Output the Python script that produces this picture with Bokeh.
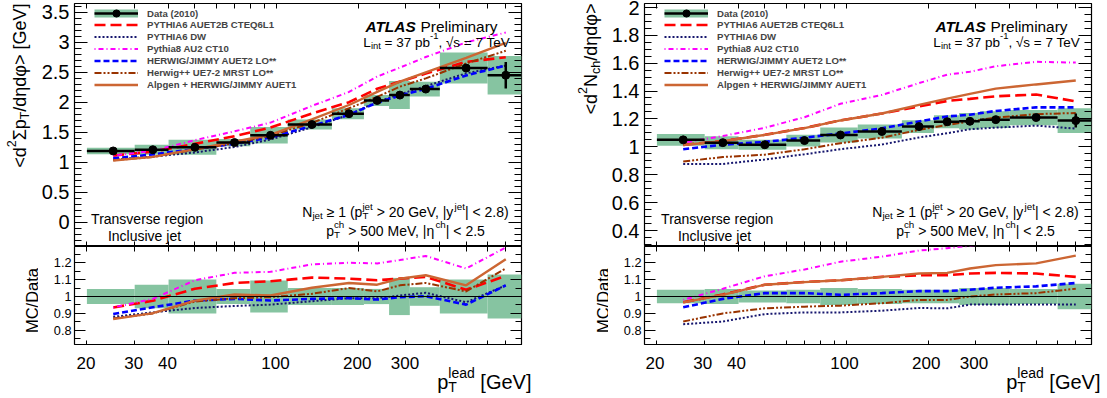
import numpy as np
from bokeh.plotting import figure
from bokeh.layouts import row, column
from bokeh.models import (FixedTicker, SingleIntervalTicker, LogAxis, LinearAxis, Label,
                          Legend, LegendItem, Span, CustomJSTickFormatter, Range1d)
from bokeh.embed import file_html
from bokeh.resources import INLINE

FONT = "Liberation Sans"
GREEN = "#86c4a1"

# ---------------- data ----------------
bin_edges = [20, 30, 40, 60, 80, 110, 160, 210, 260, 310, 400, 600, 800]
bin_centres = [25, 35, 50, 70, 95, 135, 185, 235, 285, 355, 500, 700]

mc_names = ["PYTHIA6 AUET2B CTEQ6L1", "PYTHIA6 DW", "Pythia8 AU2 CT10",
            "HERWIG/JIMMY AUET2 LO**", "Herwig++ UE7-2 MRST LO**",
            "Alpgen + HERWIG/JIMMY AUET1"]

# left: <d2 sum pT / deta dphi> [GeV]
sumpt_data = [1.19, 1.21, 1.25, 1.33, 1.45, 1.63, 1.81, 2.03, 2.12, 2.22, 2.57, 2.45]
sumpt_syst = [0.045, 0.07, 0.10, 0.045, 0.095, 0.05, 0.05, 0.045, 0.11, 0.055, 0.10, 0.13]  # relative
sumpt_stat = [0.004, 0.004, 0.004, 0.005, 0.006, 0.008, 0.01, 0.012, 0.015, 0.02, 0.05, 0.22]
sumpt_ratio_p6auet2b = [0.935, 0.975, 1.046, 1.08, 1.09, 1.112, 1.106, 1.096, 1.106, 1.116, 1.04, 1.122]
sumpt_ratio_p6dw = [0.88, 0.906, 0.932, 0.944, 0.952, 0.972, 0.99, 0.99, 1.006, 1.022, 0.966, 1.066]
sumpt_ratio_p8 = [0.935, 0.986, 1.096, 1.14, 1.146, 1.19, 1.2, 1.196, 1.216, 1.24, 1.166, 1.29]
sumpt_ratio_hj = [0.896, 0.936, 0.976, 0.986, 0.976, 0.986, 0.99, 0.982, 0.996, 1.002, 0.952, 1.066]
sumpt_ratio_hpp = [0.87, 0.9, 0.97, 0.99, 0.996, 1.016, 1.05, 1.03, 1.066, 1.08, 1.03, 1.166]
sumpt_ratio_alpgen = [0.866, 0.902, 0.976, 1.012, 1.006, 1.052, 1.08, 1.07, 1.106, 1.126, 1.066, 1.22]

# right: <d2 Nch / deta dphi>
nch_data = [1.05, 1.03, 1.015, 1.045, 1.085, 1.11, 1.145, 1.18, 1.183, 1.195, 1.21, 1.188]
nch_syst = [0.04, 0.045, 0.035, 0.04, 0.05, 0.045, 0.04, 0.04, 0.05, 0.05, 0.045, 0.075]  # relative
nch_stat = [0.003, 0.003, 0.003, 0.003, 0.004, 0.005, 0.006, 0.007, 0.008, 0.01, 0.015, 0.05]
nch_ratio_p6auet2b = [0.966, 1.012, 1.07, 1.086, 1.096, 1.116, 1.126, 1.126, 1.136, 1.14, 1.136, 1.116]
nch_ratio_p6dw = [0.836, 0.852, 0.896, 0.906, 0.906, 0.916, 0.932, 0.93, 0.952, 0.952, 0.952, 0.952]
nch_ratio_p8 = [0.98, 1.046, 1.12, 1.16, 1.206, 1.236, 1.272, 1.286, 1.3, 1.32, 1.33, 1.35]
nch_ratio_hj = [0.936, 0.986, 1.02, 1.02, 1.01, 1.02, 1.032, 1.032, 1.04, 1.052, 1.06, 1.08]
nch_ratio_hpp = [0.852, 0.9, 0.93, 0.94, 0.946, 0.96, 0.98, 0.98, 1.0, 1.012, 1.02, 1.046]
nch_ratio_alpgen = [0.965, 1.01, 1.07, 1.085, 1.096, 1.116, 1.136, 1.14, 1.166, 1.186, 1.196, 1.242]

x_ticks = [20, 30, 40, 100, 200, 300]
x_tick_labels = ["20", "30", "40", "100", "200", "300"]
x_minor_ticks = [50, 60, 70, 80, 90, 400, 500, 600, 700, 800]
ratio_ticks = [0.8, 0.9, 1.0, 1.1, 1.2]
ratio_minor_ticks = [0.75, 0.85, 0.95, 1.05, 1.15, 1.25]
X_MIN, X_MAX = 18, 800

mc_styles = [
    dict(line_color="#ff0000", line_width=2.6, line_dash="11 5"),
    dict(line_color="#16166e", line_width=2.0, line_dash="2 2"),
    dict(line_color="#ff00ff", line_width=2.0, line_dash="1 3 5 3"),
    dict(line_color="#0000ff", line_width=2.6, line_dash="6 3"),
    dict(line_color="#993300", line_width=2.0, line_dash="7 2 2 2 2 2"),
    dict(line_color="#cc6633", line_width=2.4),
]

# ---------------- text helpers ----------------
W = {' ': .278, '!': .278, '(': .333, ')': .333, '+': .584, ',': .278, '-': .333, '.': .278,
     '/': .278, '<': .584, '=': .584, '>': .584, '[': .278, ']': .278, '|': .26, '*': .389,
     '≥': .549, '√': .549, 'η': .556, 'φ': .65, 'Σ': .6,
     'A': .667, 'B': .667, 'C': .722, 'D': .722, 'E': .667, 'F': .611, 'G': .778, 'H': .722,
     'I': .278, 'J': .5, 'K': .667, 'L': .556, 'M': .833, 'N': .722, 'O': .778, 'P': .667,
     'Q': .778, 'R': .722, 'S': .667, 'T': .611, 'U': .722, 'V': .667, 'W': .944, 'X': .667,
     'Y': .667, 'Z': .611, 'a': .556, 'b': .556, 'c': .5, 'd': .556, 'e': .556, 'f': .278,
     'g': .556, 'h': .556, 'i': .222, 'j': .222, 'k': .5, 'l': .222, 'm': .833, 'n': .556,
     'o': .556, 'p': .556, 'q': .556, 'r': .333, 's': .5, 't': .278, 'u': .556, 'v': .5,
     'w': .722, 'x': .5, 'y': .5, 'z': .5}


def tw(s, size, bold=False):
    return size * sum(W.get(c, 0.556) for c in s) * (1.04 if bold else 1.0)


SUBF = 0.7


def rich(p, segs, x, y, size, align="left", angle=0.0, sup_raise=0.42, sub_drop=0.28):
    items = []
    adv = 0.0

    def put(text, a, v, sz, style):
        lead = len(text) - len(text.lstrip(' '))
        a2 = a + tw(' ' * lead, sz)
        t = text.strip(' ')
        if t:
            items.append((a2, v, t, sz, style))
        return tw(text, sz, 'bold' in style)

    for seg in segs:
        kind = seg[0]
        if kind == "n":
            style = seg[2] if len(seg) > 2 else "normal"
            adv += put(seg[1], adv, 0.0, size, style)
        elif kind == "sup":
            adv += put(seg[1], adv, sup_raise * size, size * SUBF, "normal")
        elif kind == "sub":
            adv += put(seg[1], adv, -sub_drop * size, size * SUBF, "normal")
        elif kind == "subsup":
            w1 = put(seg[1], adv, -sub_drop * size, size * SUBF, "normal")
            w2 = put(seg[2], adv, sup_raise * size, size * SUBF, "normal")
            adv += max(w1, w2)
    off = {"left": 0.0, "center": -adv / 2.0, "right": -adv}[align]
    for a, v, t, sz, style in items:
        a += off
        if angle == 0:
            lx, ly = x + a, y + v
        else:
            lx, ly = x - v, y + a
        p.add_layout(Label(x=lx, y=ly, x_units="screen", y_units="screen", text=t,
                           angle=angle, text_font=FONT, text_font_size=f"{sz:.2f}px",
                           text_font_style=style, text_baseline="alphabetic",
                           text_align="left", text_color="black"))


fmt = CustomJSTickFormatter(code="return (Math.round(tick*1000)/1000).toString();")
blank = CustomJSTickFormatter(code="return '';")


def style_axis(ax, size=None, standoff=0, tin=6, minin=3):
    ax.major_tick_in = tin
    ax.major_tick_out = 0
    ax.minor_tick_in = minin
    ax.minor_tick_out = 0
    ax.axis_line_color = None
    ax.major_tick_line_color = "black"
    ax.minor_tick_line_color = "black"
    ax.major_tick_line_width = 1
    ax.minor_tick_line_width = 1
    ax.axis_label = None
    if size is None:
        ax.formatter = blank
        ax.major_label_text_font_size = "0px"
        ax.major_label_standoff = 0
    else:
        ax.major_label_text_font = FONT
        ax.major_label_text_font_size = size
        ax.major_label_text_color = "black"
        ax.major_label_standoff = standoff
        ax.formatter = fmt


FW = 447
MAIN_H, RATIO_H, BOT_H, TOP_B = 243, 99, 53, 3


def base_fig(**kw):
    p = figure(toolbar_location=None, output_backend="svg", background_fill_color="white",
               border_fill_color="white", **kw)
    p.grid.visible = False
    return p


def legend_box(items, loc, gh, lh):
    return Legend(items=items, location=loc, padding=0, margin=0, spacing=1,
                  glyph_width=44, glyph_height=gh, label_height=lh, label_standoff=9,
                  label_text_font=FONT, label_text_font_size="9.6px",
                  label_text_font_style="bold", border_line_color=None,
                  background_fill_alpha=0.0)


def make_main(data, syst, stat, ratios, yr, yticker, bl, br):
    p = base_fig(x_axis_type="log", x_range=Range1d(X_MIN, X_MAX), y_range=Range1d(*yr),
                 frame_width=FW, frame_height=MAIN_H, min_border_left=bl, min_border_right=br,
                 min_border_top=TOP_B, min_border_bottom=0,
                 outline_line_color="black", outline_line_width=1.2)
    xt = FixedTicker(ticks=x_ticks, minor_ticks=x_minor_ticks)
    p.xaxis.ticker = xt
    style_axis(p.xaxis[0], None, tin=5, minin=5)
    p.yaxis.ticker = yticker
    style_axis(p.yaxis[0], "20px", 5, tin=13, minin=7)
    top = LogAxis(ticker=xt)
    style_axis(top, None, tin=5, minin=5)
    p.add_layout(top, "above")
    rgt = LinearAxis(ticker=yticker)
    style_axis(rgt, None, tin=13, minin=7)
    p.add_layout(rgt, "right")

    d = np.array(data)
    e = np.array(syst) * d
    lo = np.array(bin_edges[:-1])
    hi = np.array(bin_edges[1:])
    p.quad(left=lo, right=hi, bottom=d - e, top=d + e, fill_color=GREEN, line_color=None)
    rends = []
    for r, st in zip(ratios, mc_styles):
        rends.append(p.line(bin_centres, np.array(r) * d, **st))
    hb = p.segment(x0=lo, x1=hi, y0=d, y1=d, line_color="black", line_width=2.5)
    p.segment(x0=bin_centres, x1=bin_centres, y0=d - np.array(stat), y1=d + np.array(stat),
              line_color="black", line_width=2.5)
    pts = p.scatter(bin_centres, d, marker="circle", size=8, color="black")
    # legend-only swatch for the green systematic band (drawn as a thick bar in the key)
    swatch = p.segment(x0=[np.nan], x1=[np.nan], y0=[np.nan], y1=[np.nan],
                       line_color=GREEN, line_width=8)

    leg1 = legend_box([LegendItem(label="Data (2010)", renderers=[swatch, hb, pts])],
                      (20, 224), 18, 18)
    leg2 = legend_box([LegendItem(label=nm, renderers=[rr]) for nm, rr in zip(mc_names, rends)],
                      (20, 156), 9, 11)
    p.add_layout(leg1, "center")
    p.add_layout(leg2, "center")

    # annotations (screen units: from frame bottom-left)
    rich(p, [("n", "ATLAS", "bold italic"), ("n", " Preliminary")], 291, 220, 15.4)
    rich(p, [("n", "L"), ("sub", "int"), ("n", " = 37 pb"), ("sup", "-1"), ("n", ", √s = 7 TeV")],
         437, 204.5, 13.5, align="right")
    rich(p, [("n", "N"), ("sub", "jet"), ("n", " ≥ 1 (p"), ("subsup", "T", "jet"),
             ("n", " > 20 GeV, |y"), ("sup", "jet"), ("n", "| < 2.8)")], 331, 34.5, 14, align="center")
    rich(p, [("n", "p"), ("subsup", "T", "ch"), ("n", " > 500 MeV, |η"), ("sup", "ch"),
             ("n", "| < 2.5")], 331, 16, 14, align="center")
    rich(p, [("n", "Transverse region")], 73, 28, 14, align="center")
    rich(p, [("n", "Inclusive jet")], 70, 11, 14, align="center")
    return p


def make_ratio(ratios, syst, bl, br):
    p = base_fig(x_axis_type="log", x_range=Range1d(X_MIN, X_MAX), y_range=Range1d(0.71, 1.296),
                 frame_width=FW, frame_height=RATIO_H, min_border_left=bl, min_border_right=br,
                 min_border_top=0, min_border_bottom=0,
                 outline_line_color="black", outline_line_width=1.2)
    xt = FixedTicker(ticks=x_ticks, minor_ticks=x_minor_ticks)
    yt = FixedTicker(ticks=ratio_ticks, minor_ticks=ratio_minor_ticks)
    p.xaxis.ticker = xt
    style_axis(p.xaxis[0], None, tin=5, minin=5)
    p.yaxis.ticker = yt
    style_axis(p.yaxis[0], "12.7px", 3, tin=11, minin=6)
    top = LogAxis(ticker=xt)
    style_axis(top, None, tin=5, minin=5)
    p.add_layout(top, "above")
    rgt = LinearAxis(ticker=yt)
    style_axis(rgt, None, tin=11, minin=6)
    p.add_layout(rgt, "right")

    s = np.array(syst)
    lo = np.array(bin_edges[:-1])
    hi = np.array(bin_edges[1:])
    p.quad(left=lo, right=hi, bottom=1 - s, top=1 + s, fill_color=GREEN, line_color=None)
    p.add_layout(Span(location=1.0, dimension="width", line_color="black", line_width=1.2))
    for r, st in zip(ratios, mc_styles):
        p.line(bin_centres, r, **st)
    return p


def make_bottom(bl, br):
    # strip under the ratio pad: frame starts where the pad's frame starts (same log scale),
    # and runs on to the strip's right edge
    span = np.log10(X_MAX) - np.log10(X_MIN)
    dpp = span / FW
    hi = 10 ** (np.log10(X_MAX) + br * dpp)
    p = base_fig(x_axis_type="log", x_range=Range1d(X_MIN, hi), y_range=Range1d(0, 1),
                 frame_width=FW + br, frame_height=BOT_H, min_border_left=bl,
                 min_border_right=0, min_border_top=0, min_border_bottom=0,
                 x_axis_location=None, y_axis_location=None, outline_line_color=None)
    for t, lab in zip(x_ticks, x_tick_labels):
        p.add_layout(Label(x=t, y=36, x_units="data", y_units="screen", text=lab,
                           text_font=FONT, text_font_size="17px", text_align="center",
                           text_baseline="alphabetic", text_color="black"))
    rich(p, [("n", "p"), ("subsup", "T", "lead"), ("n", " [GeV]")], FW + 11, 17, 20,
         align="right")
    return p


def make_strip(width, ytitle_segs, ytitle_x, ratio_x):
    p = base_fig(x_range=Range1d(0, 1), y_range=Range1d(0, 1), frame_width=width,
                 frame_height=TOP_B + MAIN_H + RATIO_H + BOT_H, min_border=0,
                 x_axis_location=None, y_axis_location=None, outline_line_color=None)
    total = TOP_B + MAIN_H + RATIO_H + BOT_H
    rich(p, ytitle_segs, ytitle_x, total - TOP_B, 18, align="right", angle=np.pi / 2)
    rich(p, [("n", "MC/Data")], ratio_x, BOT_H + 45, 16.5, align="center", angle=np.pi / 2)
    return p


ratios_L = [sumpt_ratio_p6auet2b, sumpt_ratio_p6dw, sumpt_ratio_p8, sumpt_ratio_hj,
            sumpt_ratio_hpp, sumpt_ratio_alpgen]
ratios_R = [nch_ratio_p6auet2b, nch_ratio_p6dw, nch_ratio_p8, nch_ratio_hj,
            nch_ratio_hpp, nch_ratio_alpgen]

BL_L, BR_L, BL_R, BR_R = 35, 41, 34, 19

stripL = make_strip(38, [("n", "<d"), ("sup", "2"), ("n", "Σp"), ("sub", "T"),
                         ("n", "/dηdφ> [GeV]")], 19, 31.5)
mainL = make_main(sumpt_data, sumpt_syst, sumpt_stat, ratios_L, (-0.4, 3.644),
                  SingleIntervalTicker(interval=0.5, num_minor_ticks=5), BL_L, BR_L)
ratioL = make_ratio(ratios_L, sumpt_syst, BL_L, BR_L)
botL = make_bottom(BL_L, BR_L)

stripR = make_strip(46, [("n", "<d"), ("sup", "2"), ("n", "N"), ("sub", "ch"),
                         ("n", "/dηdφ>")], 28, 40)
mainR = make_main(nch_data, nch_syst, nch_stat, ratios_R, (0.286, 2.027),
                  SingleIntervalTicker(interval=0.2, num_minor_ticks=4), BL_R, BR_R)
ratioR = make_ratio(ratios_R, nch_syst, BL_R, BR_R)
botR = make_bottom(BL_R, BR_R)

root = row(stripL, column(column(mainL, ratioL), botL),
           stripR, column(column(mainR, ratioR), botR))

open("out.html", "w").write(file_html(root, INLINE))
